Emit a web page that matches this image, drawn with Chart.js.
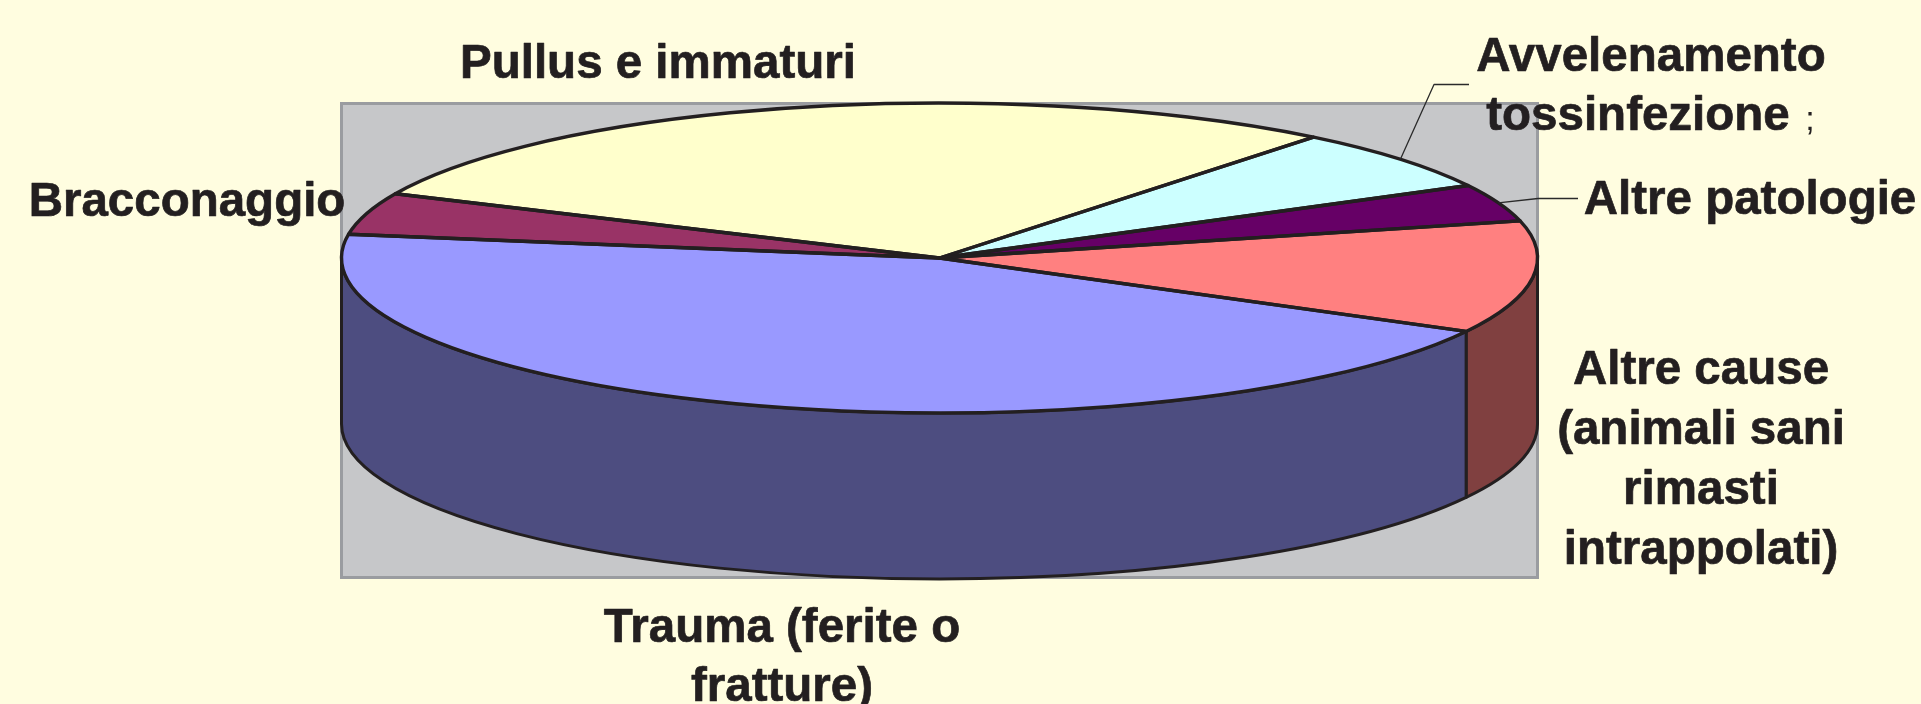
<!DOCTYPE html>
<html>
<head>
<meta charset="utf-8">
<title>Cause di ricovero</title>
<script src="https://cdn.jsdelivr.net/npm/chart.js@4"></script>
<style>
    html, body { margin: 0; padding: 0; background: #fffde0; overflow: hidden; }
    canvas { display: block; }
</style>
</head>
<body>
<canvas id="chart-pie" width="1921" height="704"></canvas>
<script>
// categorie e valori (%)
const categories = ['Pullus e immaturi', 'Avvelenamento tossinfezione', 'Altre patologie', 'Altre cause', 'Trauma', 'Bracconaggio'];
const values = [28.95, 6.5, 3.9, 11.7, 44.6, 4.35];

const topColors = ['#ffffcc', '#ccffff', '#660066', '#ff8080', '#9999ff', '#993366'];
const sideColors = ['#808066', '#668080', '#330033', '#804040', '#4d4d80', '#4d1a33'];

// righe delle etichette
const labelLines = [
    ['Pullus e immaturi'],
    ['Avvelenamento', 'tossinfezione'],
    ['Altre patologie'],
    ['Altre cause', '(animali sani', 'rimasti', 'intrappolati)'],
    ['Trauma (ferite o', 'fratture)'],
    ['Bracconaggio']
];

// posizione delle etichette: [x centro, y base] per ogni riga
const labelPos = [
    [[658, 78]],
    [[1651, 71], [1638, 130]],
    [[1750, 214]],
    [[1701, 384], [1701, 444], [1701, 504], [1701, 564]],
    [[782, 642], [782, 701]],
    [[187, 216]]
];

const rot = 294.5;
const squash = 155 / 598;
const depth = 166;
const plotBox = { x: 341.5, y: 103.5, w: 1196, h: 474 };
const textColor = '#231f20';
const lineColor = '#231f20';

function arcs(chart) {
    return chart.getDatasetMeta(0).data.map(a => a.getProps(['x', 'y', 'startAngle', 'endAngle', 'outerRadius'], true));
}

const pie3d = {
    id: 'pie3d',
    beforeDatasetsDraw(chart) {
        const c = chart.ctx;
        // sfondo grigio
        c.save();
        c.fillStyle = '#c6c7c9';
        c.strokeStyle = '#9a9ca0';
        c.lineWidth = 3;
        c.fillRect(plotBox.x, plotBox.y, plotBox.w, plotBox.h);
        c.strokeRect(plotBox.x, plotBox.y, plotBox.w, plotBox.h);

        // parete laterale, solo la parte davanti
        arcs(chart).forEach((a, i) => {
            for (const k of [-1, 0, 1]) {
                const from = Math.max(a.startAngle + k * 2 * Math.PI, 0);
                const to = Math.min(a.endAngle + k * 2 * Math.PI, Math.PI);
                if (to <= from) continue;
                const ry = a.outerRadius * squash;
                c.beginPath();
                c.ellipse(a.x, a.y, a.outerRadius, ry, 0, from, to);
                c.ellipse(a.x, a.y + depth, a.outerRadius, ry, 0, to, from, true);
                c.closePath();
                c.fillStyle = sideColors[i];
                c.fill();
                c.strokeStyle = lineColor;
                c.lineWidth = 3;
                c.lineJoin = 'round';
                c.stroke();
            }
        });
        c.restore();

        // schiaccia il cerchio in ellisse mentre Chart.js disegna gli archi
        const m = arcs(chart)[0];
        c.save();
        c.translate(m.x, m.y);
        c.scale(1, squash);
        c.translate(-m.x, -m.y);
    },
    afterDatasetsDraw(chart) {
        const c = chart.ctx;
        c.restore();

        // contorni delle fette
        c.save();
        c.strokeStyle = lineColor;
        c.lineWidth = 3.4;
        c.lineJoin = 'round';
        arcs(chart).forEach(a => {
            const ry = a.outerRadius * squash;
            c.beginPath();
            c.moveTo(a.x, a.y);
            c.ellipse(a.x, a.y, a.outerRadius, ry, 0, a.startAngle, a.endAngle);
            c.closePath();
            c.stroke();
        });

        // linee guida
        const list = arcs(chart);
        const leader = (i, pts) => {
            const a = list[i];
            const mid = (a.startAngle + a.endAngle) / 2;
            c.beginPath();
            c.moveTo(a.x + a.outerRadius * Math.cos(mid), a.y + a.outerRadius * squash * Math.sin(mid));
            pts.forEach(p => c.lineTo(p[0], p[1]));
            c.stroke();
        };
        c.strokeStyle = '#2a2a2a';
        c.lineWidth = 1.3;
        leader(1, [[1434, 84.5], [1469, 84.5]]);
        leader(2, [[1538, 198.5], [1578, 198.5]]);

        // etichette
        c.fillStyle = textColor;
        c.strokeStyle = textColor;
        c.lineWidth = 0.7;
        c.textAlign = 'center';
        c.textBaseline = 'alphabetic';
        c.font = 'bold 47.5px "Liberation Sans"';
        labelLines.forEach((lines, i) => {
            lines.forEach((t, j) => {
                c.fillText(t, labelPos[i][j][0], labelPos[i][j][1]);
                c.strokeText(t, labelPos[i][j][0], labelPos[i][j][1]);
            });
        });
        c.font = '34px "Liberation Sans"';
        c.fillText(';', 1810, 130);
        c.restore();
    }
};

const config = {
    type: 'pie',
    data: {
        labels: categories,
        datasets: [
            {
                data: values,
                backgroundColor: topColors,
                borderWidth: 0,
                clip: false
            }
        ]
    },
    options: {
        responsive: false,
        animation: false,
        rotation: rot,
        radius: 598,
        layout: { padding: { right: 42, bottom: 188 } },
        plugins: {
            legend: { display: false },
            tooltip: { enabled: false }
        }
    },
    plugins: [pie3d]
};

const chart = new Chart(document.getElementById('chart-pie'), config);
</script>
</body>
</html>
